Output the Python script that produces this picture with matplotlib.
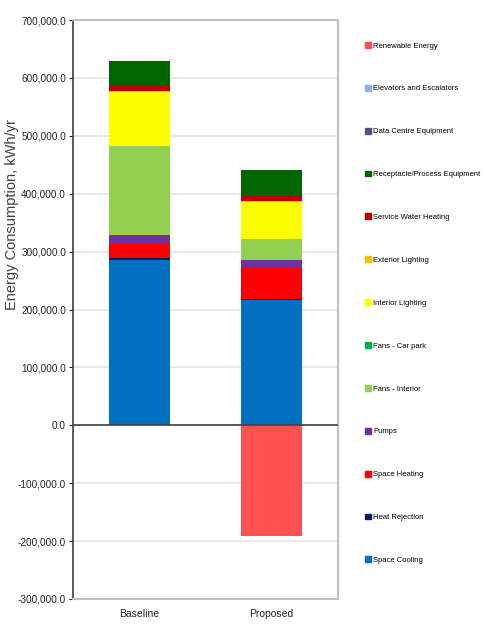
import matplotlib
matplotlib.use('Agg')
import matplotlib.pyplot as plt
import matplotlib.ticker as mticker
from matplotlib.patches import Patch
import numpy as np

plt.rcParams['font.family'] = ['Liberation Sans', 'DejaVu Sans']

# data (kWh/yr), stacked bottom -> top
cases = ['Baseline', 'Proposed']
end_uses = ['Space Cooling', 'Heat Rejection', 'Space Heating', 'Pumps',
            'Fans - Interior', 'Fans - Car park', 'Interior Lighting',
            'Exterior Lighting', 'Service Water Heating',
            'Receptacle/Process Equipment', 'Data Centre Equipment',
            'Elevators and Escalators', 'Renewable Energy']
baseline = [286000, 3000, 25000, 15500, 152500, 0, 94000, 1500, 9500, 42000, 0, 0, 0]
proposed = [217000, 500, 53500, 14000, 36000, 0, 65500, 1000, 10000, 43500, 0, 0, -190500]
colors = ['#0070C0', '#002060', '#FF0000', '#7030A0', '#92D050', '#00B050',
          '#FFFF00', '#FFC000', '#C00000', '#006600', '#604A7B', '#8DB4E2',
          '#FF5050']

fig = plt.figure(figsize=(4.84, 6.24), dpi=100)
ax = fig.add_axes([73/484, 1-599/624, (338-73)/484, (599-20)/624])

x = np.arange(len(cases))
vals = np.array([baseline, proposed], dtype=float)
pos_bot = np.zeros(len(cases))
neg_bot = np.zeros(len(cases))
for i, name in enumerate(end_uses):
    v = vals[:, i]
    bot = np.where(v >= 0, pos_bot, neg_bot)
    ax.bar(x, v, 0.46, bottom=bot, color=colors[i], edgecolor='none', zorder=3)
    pos_bot += np.where(v >= 0, v, 0)
    neg_bot += np.where(v < 0, v, 0)

ax.set_xlim(-0.5, 1.5)
ax.set_ylim(-300000, 700000)
ax.yaxis.set_major_locator(mticker.MultipleLocator(100000))
ax.yaxis.set_major_formatter(mticker.FuncFormatter(lambda v, p: '{:,.1f}'.format(v)))
ax.grid(axis='y', color='#e4e4e4', linewidth=1.2, zorder=0)
ax.axhline(0, color='#404040', linewidth=1.2, zorder=4)

ax.set_xticks(x)
ax.set_xticklabels(cases)
ax.tick_params(axis='x', length=0, labelsize=7.5, pad=7, colors='#222222')
ax.tick_params(axis='y', length=3, labelsize=7.2, colors='#222222', width=0.8, pad=2)

for s in ['top', 'right', 'bottom']:
    ax.spines[s].set_color('#c0c0c0')
    ax.spines[s].set_linewidth(1.5)
ax.spines['left'].set_color('#404040')
ax.spines['left'].set_linewidth(1.2)

fig.text(12/484, 1-215/624, 'Energy Consumption, kWh/yr', rotation=90,
         ha='center', va='center', fontsize=10.5, color='#404040')

handles = [Patch(color=colors[i], label=end_uses[i]) for i in range(len(end_uses))][::-1]
fig.legend(handles=handles, loc='center left', bbox_to_anchor=(358/484, 1-303/624),
           frameon=False, fontsize=5.5, labelspacing=4.62, handlelength=0.8,
           handleheight=0.8, handletextpad=0.3)

fig.savefig('out.png', dpi=100)
